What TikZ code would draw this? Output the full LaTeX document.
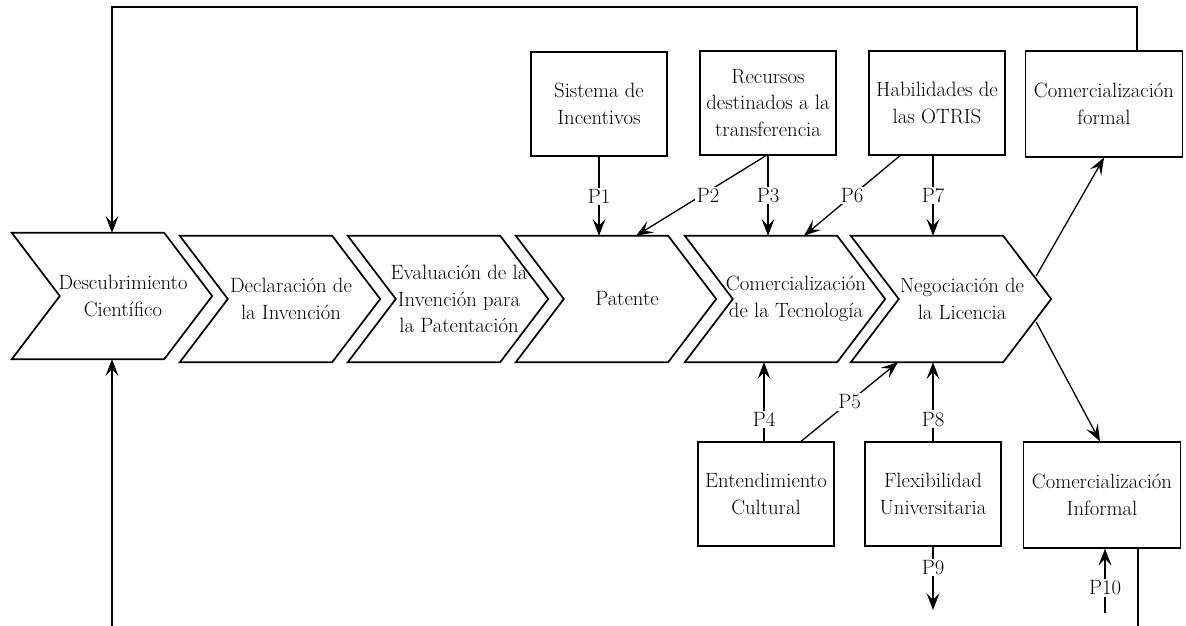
\documentclass[tikz,border=0pt]{standalone}
\usepackage{xcolor}
\usepackage{tikz}
\usetikzlibrary{arrows.meta}
\definecolor{FlowInk}{RGB}{0,0,0}

\begin{document}
\begin{tikzpicture}[x=1pt, y=-1pt, FlowInk,
    font=\fontsize{20.7}{26.5}\selectfont,
    stage/.style={minimum width=178pt, minimum height=126pt,
                  inner sep=0pt, align=center},
    factor/.style={draw, line width=1.3pt, minimum width=136pt,
                   minimum height=104pt, inner sep=2pt, align=center},
    wide/.style={minimum width=157pt, minimum height=106pt},
    conn/.style={line width=1.3pt,
                 -{Stealth[length=17pt, width=13pt, inset=7pt]}},
    plain/.style={line width=1.3pt},
    lbl/.style={fill=white, inner sep=1.5pt}]

        \fill[white] (0,0) rectangle (1186,626);
        \useasboundingbox (0,0) rectangle (1186,626);

        % Stages of the transfer process
        \node[stage] (desc) at (123,296) {Descubrimiento\\Científico};
        \node[stage] (decl) at (291,299) {Declaración de\\la Invención};
        \node[stage] (eval) at (459,299)
              {Evaluación de la\\Invención para\\la Patentación};
        \node[stage] (pat)  at (627,299) {Patente};
        \node[stage] (comt) at (796,299) {Comercialización\\de la Tecnología};
        \node[stage] (neg)  at (962,299) {Negociación de\\la Licencia};

        \foreach \s in {desc,decl,eval,pat,comt,neg}
          \draw[line width=1.7pt]
            ([xshift=-22pt]\s.north west) -- ([xshift=-48pt]\s.north east)
            -- (\s.east) -- ([xshift=-48pt]\s.south east)
            -- ([xshift=-22pt]\s.south west) -- ([xshift=26pt]\s.west) -- cycle;

        % Factors above and below
        \node[factor] (sis) at (599,104) {Sistema de\\Incentivos};
        \node[factor] (rec) at (768,103)
              {Recursos\\destinados a la\\transferencia};
        \node[factor] (hab) at (937,103) {Habilidades de\\las OTRIS};
        \node[factor, wide] (form) at (1104,104) {Comercialización\\formal};
        \node[factor] (ent) at (766,494) {Entendimiento\\Cultural};
        \node[factor] (flex) at (933,494) {Flexibilidad\\Universitaria};
        \node[factor, wide] (inf) at (1102,495)
              {Comercialización\\Informal};

        % Propositions P1..P10
        \draw[conn] (sis.south) -- node[lbl]{P1} (sis.south |- pat.north);
        \draw[conn] ([xshift=-2pt]rec.south)
              -- node[lbl, xshift=7pt]{P2} ([xshift=9pt]pat.north);
        \draw[conn] (rec.south) -- node[lbl]{P3} (rec.south |- comt.north);
        \draw[conn] ([xshift=-37pt]hab.south)
              -- node[lbl]{P6} ([xshift=8pt]comt.north);
        \draw[conn] ([xshift=-4pt]hab.south)
              -- node[lbl]{P7} ([xshift=-4pt]hab.south |- neg.north);
        \draw[conn] ([xshift=-2pt]ent.north)
              -- node[lbl, pos=0.28]{P4} ([xshift=-2pt]ent.north |- comt.south);
        \draw[conn] ([xshift=35pt]ent.north)
              -- node[lbl]{P5} ([xshift=-64pt]neg.south);
        \draw[conn] (flex.north) -- node[lbl, pos=0.28]{P8} (flex.north |- neg.south);

        \coordinate (p9end) at (933,610);
        \coordinate (p10beg) at (1105,613);
        \draw[conn] (flex.south) -- node[lbl, pos=0.33]{P9} (p9end);
        \draw[conn] (p10beg) -- node[lbl, pos=0.39]{P10} (p10beg |- inf.south);

        % Outcomes of the negotiation
        \draw[conn] ([xshift=-15pt, yshift=23pt]neg.east) -- (form.south);
        \draw[conn] ([xshift=-15pt, yshift=-23pt]neg.east)
              -- ([xshift=-2pt]inf.north);

        % Feedback loop
        \coordinate (fbtop) at (112,7);
        \coordinate (fbbot) at (112,626);
        \coordinate (fbout) at (1138,626);
        \draw[conn] ([xshift=33pt]form.north) |- (fbtop)
              -- (fbtop |- desc.north);
        \draw[conn] (fbbot) -- (fbbot |- desc.south);
        \draw[plain] (fbout |- inf.south) -- (fbout);
      \end{tikzpicture}
\end{document}
